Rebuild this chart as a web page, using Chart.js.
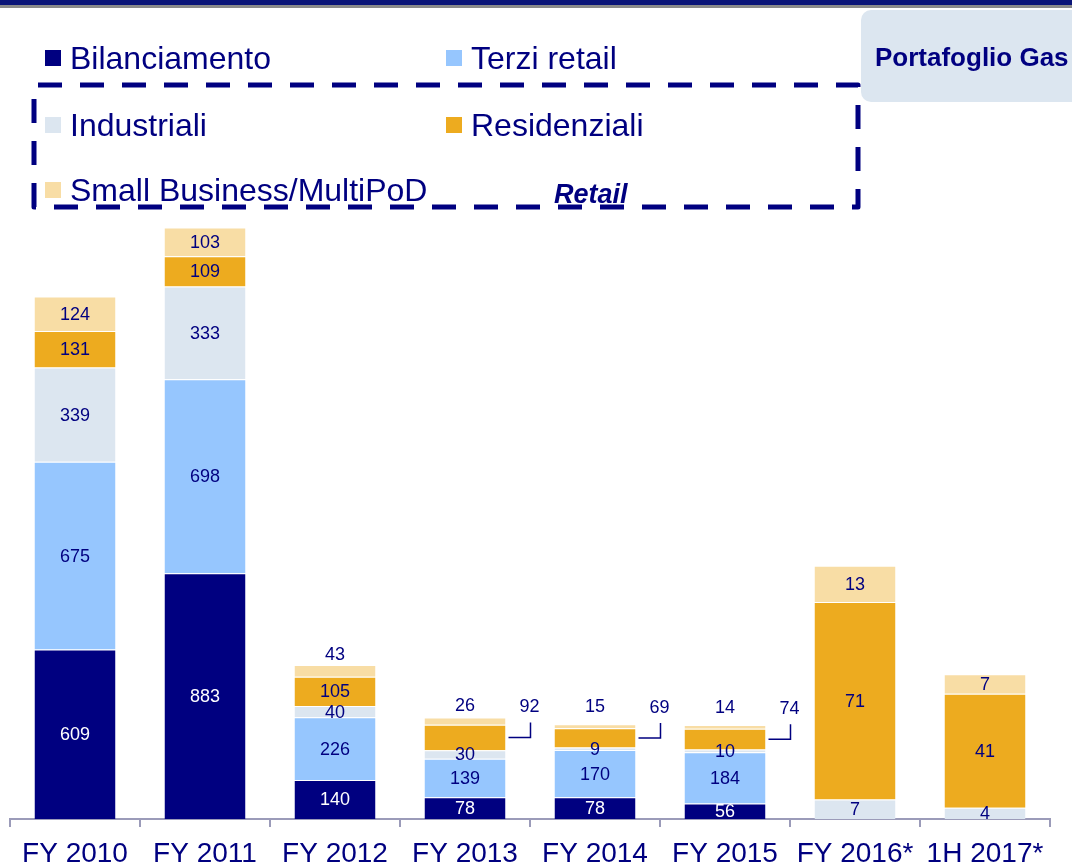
<!DOCTYPE html>
<html>
<head>
<meta charset="utf-8">
<script src="https://cdn.jsdelivr.net/npm/chart.js@4.4.1/dist/chart.umd.min.js"></script>
<style>
  html, body { margin: 0; padding: 0; background: #fff; overflow: hidden; }
  #wrap { position: relative; width: 1072px; height: 864px; overflow: hidden;
          font-family: "Liberation Sans", Arial, sans-serif; color: #000080; }
  #chartBox { position: absolute; left: 0; top: 0; width: 1072px; height: 864px; }
  #topband { position: absolute; left: 0; top: 0; width: 1072px; height: 5px; background: #0a1478; }
  #topline { position: absolute; left: 0; top: 5px; width: 1072px; height: 3px; background: #8a8a8a; }
  #dash { position: absolute; left: 0; top: 0; }
  .leg { position: absolute; height: 36px; line-height: 36px; font-size: 32px; white-space: nowrap; }
  .leg i { position: absolute; left: 0; top: 10px; width: 16px; height: 16px; }
  .leg span { position: absolute; left: 25px; top: 0; }
  #pg { position: absolute; left: 861px; top: 10px; width: 260px; height: 92px; border-radius: 10px; background: #dce6f0; }
  #pg span { position: absolute; left: 14px; top: 32px; font-weight: bold; font-size: 26px; line-height: 30px; white-space: nowrap; color: #000080; }
  #retail { position: absolute; left: 554px; top: 179px; font-weight: bold; font-style: italic; font-size: 27px; line-height: 30px; color: #000080; }
</style>
</head>
<body>
<div id="wrap">
  <div id="chartBox"><canvas id="c" width="1072" height="864"></canvas></div>
  <div id="topband"></div>
  <div id="topline"></div>
  <svg id="dash" width="1072" height="260">
    <path d="M34 207 V85 H858 V207 Z" fill="none" stroke="#000080" stroke-width="5" stroke-dasharray="24 18" stroke-linejoin="round"/>
  </svg>
  <div id="legend"></div>
  <div id="retail">Retail</div>
  <div id="pg"><span>Portafoglio Gas</span></div>
</div>
<script>
// ---- data ----
const categories = ['FY 2010', 'FY 2011', 'FY 2012', 'FY 2013', 'FY 2014', 'FY 2015', 'FY 2016*', '1H 2017*'];
const seriesNames = ['Bilanciamento', 'Terzi retail', 'Industriali', 'Residenziali', 'Small Business/MultiPoD'];
const bilanciamento = [609, 883, 140, 78, 78, 56, null, null];
const terziRetail   = [675, 698, 226, 139, 170, 184, null, null];
const industriali   = [339, 333, 40, 30, 9, 10, 7, 4];
const residenziali  = [131, 109, 105, 92, 69, 74, 71, 41];
const smallBusiness = [124, 103, 43, 26, 15, 14, 13, 7];
// the last two bars are drawn at ten times the figures printed on them (as in the reference)
const drawScale     = [1, 1, 1, 1, 1, 1, 10, 10];

// ---- styling ----
const NAVY = '#000080';
const colors = ['#000080', '#96c6fe', '#dce6f0', '#edab1f', '#f8dda5'];
const labelColors = ['#ffffff', NAVY, NAVY, NAVY, NAVY];
const FONT = '"Liberation Sans", Arial, Helvetica, sans-serif';
// label placement: residenziali labels shown outside with a bracket, small-business labels above the bar
const bracketCats = ['FY 2013', 'FY 2014', 'FY 2015'];
const aboveCats = ['FY 2012', 'FY 2013', 'FY 2014', 'FY 2015'];

// ---- legend (HTML text) ----
const legendPos = [[45, 40], [446, 40], [45, 107], [446, 107], [45, 172]];
const legendEl = document.getElementById('legend');
seriesNames.forEach((n, k) => {
  const d = document.createElement('div');
  d.className = 'leg';
  d.style.left = legendPos[k][0] + 'px';
  d.style.top = legendPos[k][1] + 'px';
  d.innerHTML = '<i style="background:' + colors[k] + '"></i><span></span>';
  d.querySelector('span').textContent = n;
  legendEl.appendChild(d);
});

const seriesValues = [bilanciamento, terziRetail, industriali, residenziali, smallBusiness];
const datasets = seriesValues.map((vals, k) => ({
  label: seriesNames[k],
  data: vals.map((v, i) => v == null ? null : v * drawScale[i]),
  shown: vals,
  backgroundColor: colors[k],
  borderColor: 'rgba(255,255,255,0.6)',
  borderWidth: { top: 1, left: 0, right: 0, bottom: 0 },
  borderSkipped: false,
  categoryPercentage: 1.0,
  barPercentage: 0.623
}));

const labelPlugin = {
  id: 'segLabels',
  afterDatasetsDraw(chart) {
    const ctx = chart.ctx;
    ctx.save();
    ctx.font = '18px ' + FONT;
    ctx.textAlign = 'center';
    ctx.textBaseline = 'middle';
    const resMeta = chart.getDatasetMeta(3);
    chart.data.datasets.forEach((ds, di) => {
      const meta = chart.getDatasetMeta(di);
      meta.data.forEach((bar, i) => {
        const v = ds.shown[i];
        if (v == null) return;
        const p = bar.getProps(['x', 'y', 'base', 'width'], true);
        const cy = (p.y + p.base) / 2;
        const cat = categories[i];
        ctx.fillStyle = labelColors[di];
        if (di === 3 && bracketCats.includes(cat)) {
          const rx = p.x + p.width / 2;
          ctx.strokeStyle = NAVY;
          ctx.lineWidth = 1.5;
          ctx.beginPath();
          ctx.moveTo(rx + 3, cy);
          ctx.lineTo(rx + 25, cy);
          ctx.lineTo(rx + 25, cy - 15);
          ctx.stroke();
          ctx.fillText(String(v), rx + 24, cy - 30);
        } else if (di === 4 && aboveCats.includes(cat)) {
          let ly = p.y - 10;
          if (bracketCats.includes(cat)) {
            const rb = resMeta.data[i].getProps(['y', 'base'], true);
            ly = (rb.y + rb.base) / 2 - 31;
          }
          ctx.fillText(String(v), p.x, ly);
        } else {
          ctx.fillText(String(v), p.x, cy + 1);
        }
      });
    });
    ctx.restore();
  }
};

new Chart(document.getElementById('c'), {
  type: 'bar',
  data: { labels: categories, datasets },
  options: {
    responsive: false,
    animation: false,
    layout: { padding: { left: 10, right: 22, top: 207, bottom: 0 } },
    plugins: { legend: { display: false }, tooltip: { enabled: false } },
    scales: {
      x: {
        stacked: true,
        grid: { offset: true, drawOnChartArea: false, drawTicks: true, tickLength: 8, color: '#9b9bb9', lineWidth: 2 },
        border: { display: true, color: '#9b9bb9', width: 2 },
        ticks: { color: NAVY, font: { family: FONT, size: 28 }, padding: 10, maxRotation: 0, autoSkip: false },
        afterFit(scale) { scale.height = 45; }
      },
      y: { stacked: true, display: false, min: 0, max: 2200 }
    }
  },
  plugins: [labelPlugin]
});
</script>
</body>
</html>
